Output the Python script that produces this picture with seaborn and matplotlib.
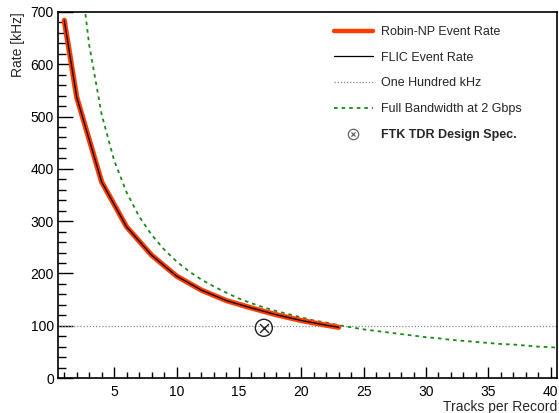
import matplotlib
matplotlib.use("Agg")
import matplotlib.pyplot as plt
import seaborn as sns
import pandas as pd
from matplotlib.ticker import MultipleLocator
from matplotlib.lines import Line2D
from matplotlib.legend_handler import HandlerTuple

# ---- data ----
tracks = [1, 2, 4, 6, 8, 10, 12, 14, 16, 18, 20, 22, 23]
robin_rate = [684, 537, 375, 289, 235, 195, 168, 148, 134, 121, 110, 101, 97]
flic_rate = [684, 537, 375, 289, 235, 195, 168, 148, 134, 121, 110, 101, 97]

bw_tracks = [2, 2.5, 3, 4, 5, 6, 7, 8, 9, 10, 11, 12, 13, 14, 15, 16, 17, 18, 19, 20,
             21, 22, 23, 24, 25, 26, 27, 28, 29, 30, 31, 32, 33, 34, 35, 36, 37, 38, 39, 40, 40.5]
bw_rate = [867, 735, 637, 504, 416, 355, 309, 274, 246, 223, 204, 188, 175, 163, 152, 143,
           135, 128, 122, 116, 110, 106, 101, 97, 93, 90, 87, 84, 81, 78, 76, 73, 71, 69,
           67, 65, 64, 62, 60, 59, 58]

hundred_khz = 100
spec_tracks = [17]
spec_rate = [96]

labels = ["Robin-NP Event Rate", "FLIC Event Rate", "One Hundred kHz",
          "Full Bandwidth at 2 Gbps", "FTK TDR Design Spec."]

sns.set_style("white")
plt.rcParams['font.family'] = ['Liberation Sans', 'DejaVu Sans']
plt.rcParams['mathtext.fontset'] = 'dejavusans'

fig = plt.figure(figsize=(5.59, 4.13), dpi=100)
ax = fig.add_axes([58/559, 1-378/413, 499/559, 366/413])

df_robin = pd.DataFrame({"x": tracks, "y": robin_rate})
df_flic = pd.DataFrame({"x": tracks, "y": flic_rate})
df_bw = pd.DataFrame({"x": bw_tracks, "y": bw_rate})

ax.axhline(hundred_khz, color="#888888", lw=0.9, ls=(0, (1, 1.5)), zorder=1)
sns.lineplot(data=df_bw, x="x", y="y", ax=ax, color="#1a8a1a", lw=1.3,
             ls=(0, (2, 2.2)), zorder=2, estimator=None, sort=False)
sns.lineplot(data=df_robin, x="x", y="y", ax=ax, color="#ff3c00", lw=3.8,
             zorder=3, estimator=None, sort=False)
sns.lineplot(data=df_flic, x="x", y="y", ax=ax, color="black", lw=0.9,
             zorder=4, estimator=None, sort=False)
sns.scatterplot(x=spec_tracks, y=spec_rate, ax=ax, marker="o", s=150,
                facecolor="none", edgecolor="#222222", linewidth=1.0, zorder=5)
sns.scatterplot(x=spec_tracks, y=spec_rate, ax=ax, marker="x", s=40,
                color="#222222", linewidth=1.0, zorder=6)

ax.set_xlim(0.5, 40.5)
ax.set_ylim(0, 700)
ax.xaxis.set_major_locator(MultipleLocator(5))
ax.xaxis.set_minor_locator(MultipleLocator(1))
ax.yaxis.set_major_locator(MultipleLocator(100))
ax.yaxis.set_minor_locator(MultipleLocator(20))
ax.tick_params(axis="both", which="both", direction="in", labelsize=10,
               colors="black", top=False, right=False, bottom=True, left=True)
ax.tick_params(axis="y", which="major", length=11, width=1, pad=3)
ax.tick_params(axis="y", which="minor", length=5.5, width=1)
ax.tick_params(axis="x", which="major", length=8, width=1, pad=5)
ax.tick_params(axis="x", which="minor", length=4, width=1)
for s in ax.spines.values():
    s.set_color("black")
    s.set_linewidth(1.2)

ax.set_xlabel("Tracks per Record", fontsize=10, ha="right", x=1.0, labelpad=1)
ax.set_ylabel("Rate [kHz]", fontsize=10, ha="right", y=1.0, labelpad=4)

spec_handle = (
    Line2D([], [], color="#555555", marker="o", markerfacecolor="none", ls="none",
           markersize=7.5, markeredgewidth=0.8),
    Line2D([], [], color="#555555", marker="x", ls="none", markersize=3.5, markeredgewidth=0.8),
)
handles = [
    Line2D([], [], color="#ff3c00", lw=3.2),
    Line2D([], [], color="black", lw=0.9),
    Line2D([], [], color="#888888", lw=0.9, ls=(0, (1, 1.5))),
    Line2D([], [], color="#1a8a1a", lw=1.3, ls=(0, (2, 2.2))),
    spec_handle,
]
leg = ax.legend(handles, labels, loc="upper left", bbox_to_anchor=(0.553, 0.962),
                frameon=False, fontsize=9, handlelength=3.1, handletextpad=0.65,
                labelspacing=1.1, borderpad=0, borderaxespad=0,
                handler_map={tuple: HandlerTuple(ndivide=1, pad=0)})
leg.get_texts()[4].set_fontweight("bold")

fig.savefig("out.png", dpi=100)
